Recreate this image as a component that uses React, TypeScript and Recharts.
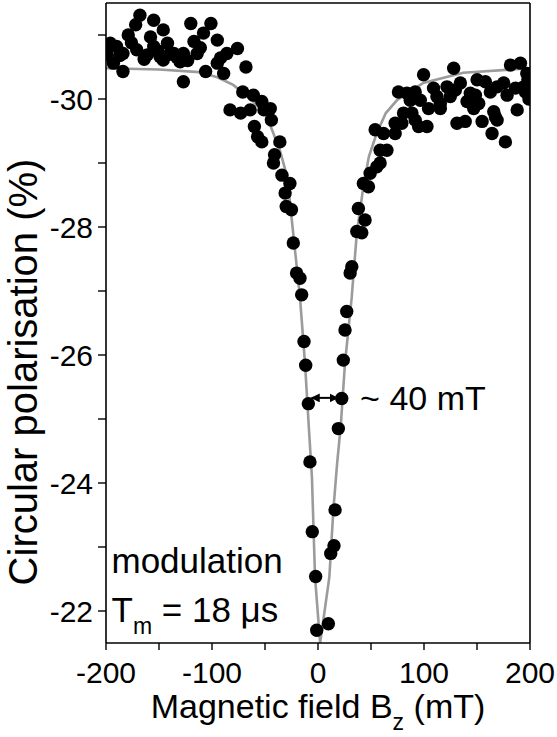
import {
  ComposedChart,
  Line,
  ReferenceDot,
  ReferenceLine,
  Scatter,
  XAxis,
  YAxis
} from "recharts";

const FONT = '"Liberation Sans", Arial, Helvetica, sans-serif';

// measured points: [B_z (mT), circular polarisation (%)]
const wingLeft: [number, number][] = [
  [-200, -30.85], [-199, -30.69], [-196, -30.87], [-193, -30.56], [-190, -30.82],
  [-187, -30.68], [-184, -30.71], [-184, -30.43], [-179, -31.0], [-176, -30.88],
  [-172, -31.16], [-171, -30.77], [-168, -31.31], [-164, -30.62], [-161, -30.69],
  [-158, -30.97], [-155, -31.23], [-155, -30.82], [-151, -30.75], [-149, -30.66],
  [-146, -31.08], [-146, -30.61], [-142, -30.87], [-140, -30.7], [-136, -30.71],
  [-133, -30.65], [-130, -30.58], [-127, -30.71], [-127, -30.27], [-123, -30.6],
  [-120, -31.18], [-117, -30.9], [-114, -30.71], [-111, -30.8], [-108, -31.03],
  [-106, -30.43], [-101, -31.18], [-95, -30.92], [-95, -30.56], [-92, -30.64],
  [-89, -30.4], [-86, -30.71], [-83, -29.83], [-76, -30.79], [-73, -29.78],
  [-71, -30.11], [-68, -30.5]
];

const dipLeft: [number, number][] = [
  [-64, -29.83], [-61, -30.06], [-60, -29.57], [-57, -29.41], [-53, -29.96],
  [-53, -29.33], [-51, -29.83], [-45, -29.85], [-44, -29.67], [-42, -29.0],
  [-41, -29.13], [-36, -29.33], [-34, -28.81], [-31, -28.53], [-30, -28.32],
  [-26.5, -28.68], [-25, -28.27], [-23.3, -27.75], [-20.2, -27.28], [-17, -27.2],
  [-15.4, -26.94], [-13.2, -26.21], [-11.6, -25.84], [-9.1, -25.24], [-7.6, -24.33],
  [-5.4, -23.24], [-2.2, -22.54], [-1.2, -21.7]
];

const dipRight: [number, number][] = [
  [9.8, -21.8], [12, -22.9], [15.1, -23.02], [16.1, -23.58], [19.2, -24.85],
  [22.4, -25.32], [23.9, -25.92], [25.5, -26.39], [27.1, -26.68], [30.3, -27.28],
  [31.9, -27.38], [36.6, -27.93], [41.3, -27.91], [38.1, -28.29], [44.4, -28.11],
  [42.8, -28.68], [47.6, -28.63], [49.2, -28.84], [55.5, -28.94], [58.6, -29.0],
  [58.6, -29.2], [53.9, -29.52], [61.8, -29.46], [65, -29.2]
];

const wingRight: [number, number][] = [
  [72.8, -29.46], [72.8, -29.62], [79.1, -29.62], [80.7, -29.78], [88.6, -29.78],
  [87, -29.98], [75.9, -30.11], [83.9, -30.09], [91.7, -30.11], [91.7, -29.67],
  [94.9, -29.57], [102.8, -29.57], [99.6, -30.38], [96.5, -29.98], [104.3, -29.85],
  [109, -30.17], [112.2, -30.04], [115.4, -29.93], [115.4, -29.85], [121.7, -30.19],
  [124.8, -30.04], [128, -30.48], [129.6, -30.14], [131.1, -29.62], [134.3, -30.25],
  [138.9, -29.65], [140.6, -29.96], [143.7, -30.09], [146.9, -29.85], [148.5, -30.06],
  [150.1, -30.3], [151.6, -29.93], [154.8, -29.65], [157.9, -30.27], [162.6, -30.11],
  [164.2, -29.46], [165.8, -29.8], [167.4, -29.72], [169, -30.19], [169, -29.67],
  [175.2, -30.25], [176.8, -29.33], [178.4, -30.06], [181.6, -30.53], [186.3, -30.17],
  [187.9, -29.83], [191, -30.56], [194.1, -30.19], [195.7, -30.11], [197, -30.4],
  [198, -30.3], [199, -30.0]
];

// fitted curve
const fitField = [
  -200, -150, -112, -95, -80, -62, -48, -36, -29, -24, -17, -12.3, -8.5, -5.7, -2.8, 2,
  10.7, 14.5, 18, 21.5, 25.5, 31.8, 36.6, 42.8, 48, 55.5, 64, 74.4, 99.3, 137, 200
];
const fitPolarisation = [
  -30.48, -30.46, -30.42, -30.34, -30.22, -29.98, -29.72, -29.2, -28.78, -28.0, -26.9,
  -25.88, -24.83, -24.08, -22.53, -21.5,
  -22.53, -23.58, -24.3, -24.9, -25.88, -26.9, -27.9, -28.63, -29.1, -29.47, -29.78,
  -29.98, -30.25, -30.41, -30.48
];

const xTicks = [-200, -150, -100, -50, 0, 50, 100, 150, 200];
const yTicks = [-31, -30, -29, -28, -27, -26, -25, -24, -23, -22];
const widthArrow = { from: -6, to: 18.5, level: -25.33, text: "~ 40 mT" };

const points = [...wingLeft, ...dipLeft, ...dipRight, ...wingRight].map(([x, y]) => ({ x, y }));
const fit = fitField.map((x, i) => ({ x, y: fitPolarisation[i] }));

const tickStyle = { fill: "#000", fontSize: 30, fontFamily: FONT };

const Dot = (p: any) => <circle cx={p.cx} cy={p.cy} r={6.7} fill="#000" />;

const textAt =
  (render: (x: number, y: number) => any) =>
  (p: any) =>
    render(p.viewBox.x, p.viewBox.y);

export default function App() {
  return (
    <div style={{ position: "absolute", left: 0, top: 0, background: "#fff" }}>
      <ComposedChart
        width={557}
        height={737}
        margin={{ top: 0, right: 0, bottom: 0, left: 0 }}
        style={{ fontFamily: FONT }}
      >
        <defs>
          <marker id="ah" viewBox="0 0 10 10" refX="9" refY="5" markerWidth="9" markerHeight="9"
            markerUnits="userSpaceOnUse" orient="auto-start-reverse">
            <path d="M0,0 L10,5 L0,10 z" fill="#000" />
          </marker>
        </defs>
        <XAxis
          dataKey="x"
          type="number"
          domain={[-200, 200]}
          ticks={xTicks}
          allowDataOverflow
          height={94}
          tick={tickStyle}
          tickFormatter={(v: number) => (v % 100 === 0 ? String(v) : "")}
          tickSize={7}
          tickMargin={12}
          axisLine={{ stroke: "#000", strokeWidth: 1.6 }}
          tickLine={{ stroke: "#000", strokeWidth: 1.4 }}
          label={{
            content: (p: any) => (
              <text x={p.viewBox.x + p.viewBox.width / 2} y={p.viewBox.y + 75} textAnchor="middle"
                fontSize={34} fontFamily={FONT} fill="#000">
                Magnetic field B
                <tspan fontSize={23} dy={12}>z</tspan>
                <tspan dy={-12}> (mT)</tspan>
              </text>
            )
          }}
        />
        <XAxis
          xAxisId="top"
          orientation="top"
          dataKey="x"
          type="number"
          domain={[-200, 200]}
          ticks={xTicks}
          height={3}
          tick={false}
          tickSize={3}
          axisLine={{ stroke: "#000", strokeWidth: 1.6 }}
        />
        <YAxis
          type="number"
          domain={[-31.5, -21.5]}
          reversed
          ticks={yTicks}
          allowDataOverflow
          width={106}
          tick={tickStyle}
          tickFormatter={(v: number) => (v % 2 === 0 ? String(v) : "")}
          tickSize={8}
          tickMargin={5}
          axisLine={{ stroke: "#000", strokeWidth: 1.6 }}
          tickLine={{ stroke: "#000", strokeWidth: 1.4 }}
          label={{
            content: () => (
              <text x={37} y={372} transform="rotate(-90 37 372)" textAnchor="middle"
                fontSize={40} fontFamily={FONT} fill="#000">
                Circular polarisation (%)
              </text>
            )
          }}
        />
        <YAxis
          yAxisId="right"
          orientation="right"
          type="number"
          domain={[-31.5, -21.5]}
          reversed
          ticks={yTicks}
          width={27}
          tick={false}
          tickSize={3}
          axisLine={{ stroke: "#000", strokeWidth: 1.6 }}
        />
        <Scatter data={points} dataKey="y" shape={Dot} isAnimationActive={false} />
        <Line
          data={fit}
          dataKey="y"
          type="linear"
          stroke="#9b9b9b"
          strokeWidth={2.6}
          dot={false}
          activeDot={false}
          isAnimationActive={false}
        />
        <ReferenceLine
          segment={[
            { x: widthArrow.from, y: widthArrow.level },
            { x: widthArrow.to, y: widthArrow.level }
          ]}
          shape={(p: any) => (
            <line x1={p.x1} y1={p.y1} x2={p.x2} y2={p.y2} stroke="#000" strokeWidth={2}
              markerStart="url(#ah)" markerEnd="url(#ah)" />
          )}
        />
        <ReferenceDot
          x={39.7}
          y={-25.14}
          r={0}
          label={{
            content: textAt((x, y) => (
              <text x={x} y={y} fontSize={34} fontFamily={FONT} fill="#000">{widthArrow.text}</text>
            ))
          }}
        />
        <ReferenceDot
          x={-194.8}
          y={-22.59}
          r={0}
          label={{
            content: textAt((x, y) => (
              <text x={x} y={y} fontSize={35} fontFamily={FONT} fill="#000">modulation</text>
            ))
          }}
        />
        <ReferenceDot
          x={-194.8}
          y={-21.83}
          r={0}
          label={{
            content: textAt((x, y) => (
              <text x={x} y={y} fontSize={35} fontFamily={FONT} fill="#000">
                T<tspan fontSize={23} dy={12}>m</tspan>
                <tspan dy={-12}> = 18 μs</tspan>
              </text>
            ))
          }}
        />
      </ComposedChart>
    </div>
  );
}
